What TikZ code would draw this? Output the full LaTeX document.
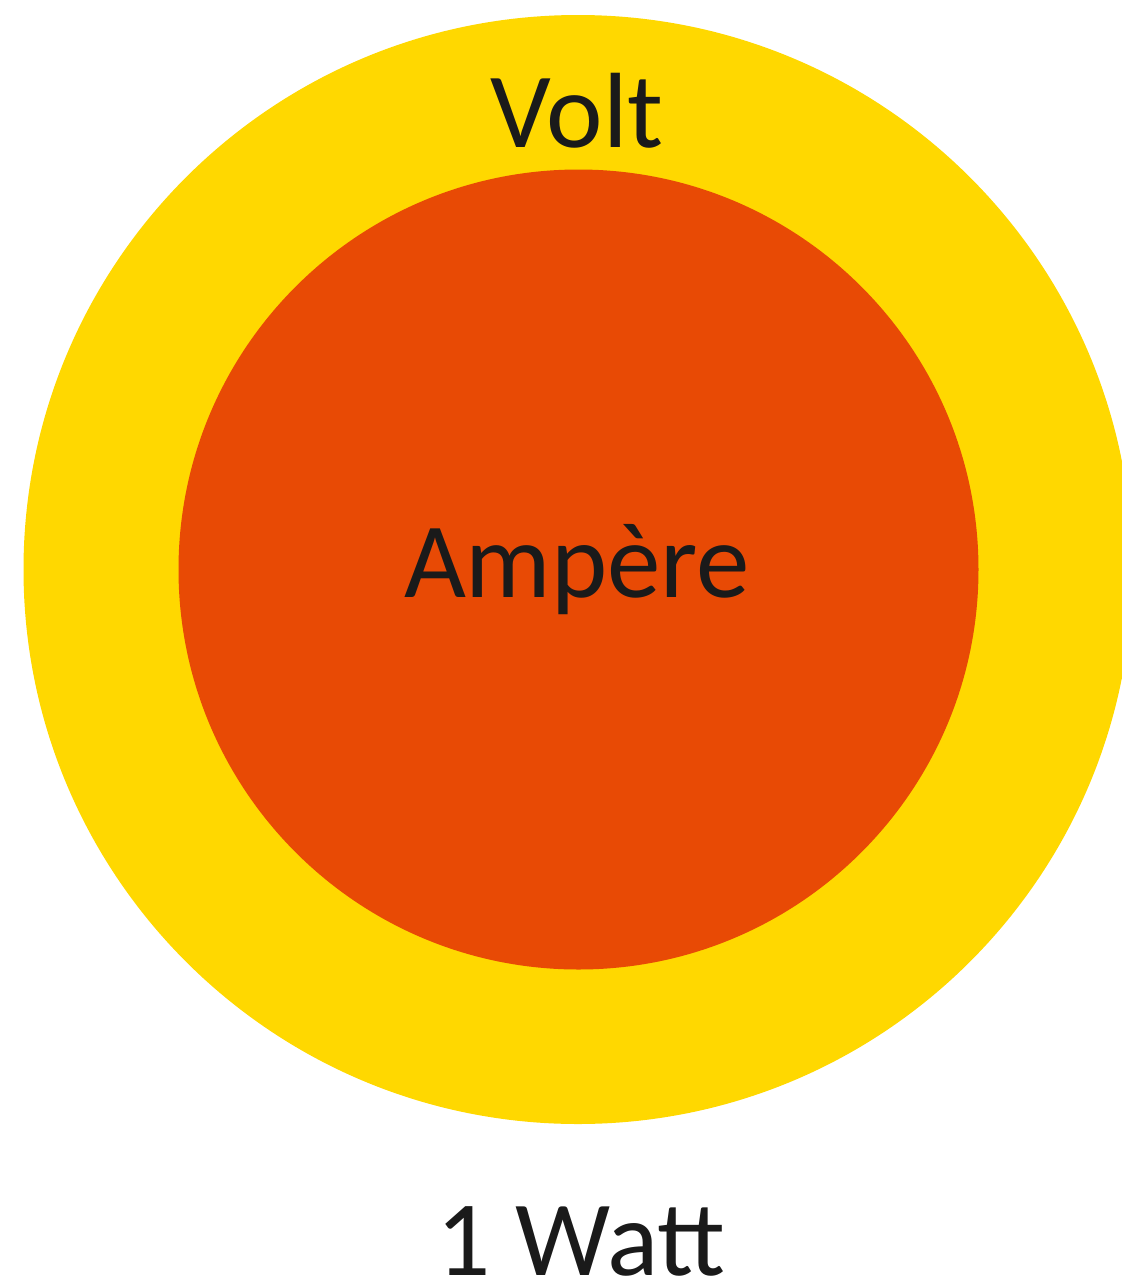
\documentclass[tikz,border=0pt]{standalone}
\usepackage{fontspec}
\setmainfont{Carlito}
\definecolor{volty}{HTML}{FFD800}
\definecolor{ampo}{HTML}{E84A05}
\definecolor{txt}{HTML}{1A1A1A}
\begin{document}
\begin{tikzpicture}[x=1pt,y=-1pt,
  lbl/.style={anchor=base,inner sep=0pt,text=txt,font=\fontsize{107}{128}\selectfont}]
\useasboundingbox (0,0) rectangle (1122,1286);
\clip (0,0) rectangle (1122,1286);
\fill[volty] (578,569.5) circle[radius=554.5];
\fill[ampo] (578.5,569.5) circle[radius=400];
\node[lbl] (volt) at (577,147) {Volt};
\node[lbl] (amp) at (577,597) {Ampère};
\node[lbl] (watt) at (581,1275) {1 Watt};
\end{tikzpicture}
\end{document}
